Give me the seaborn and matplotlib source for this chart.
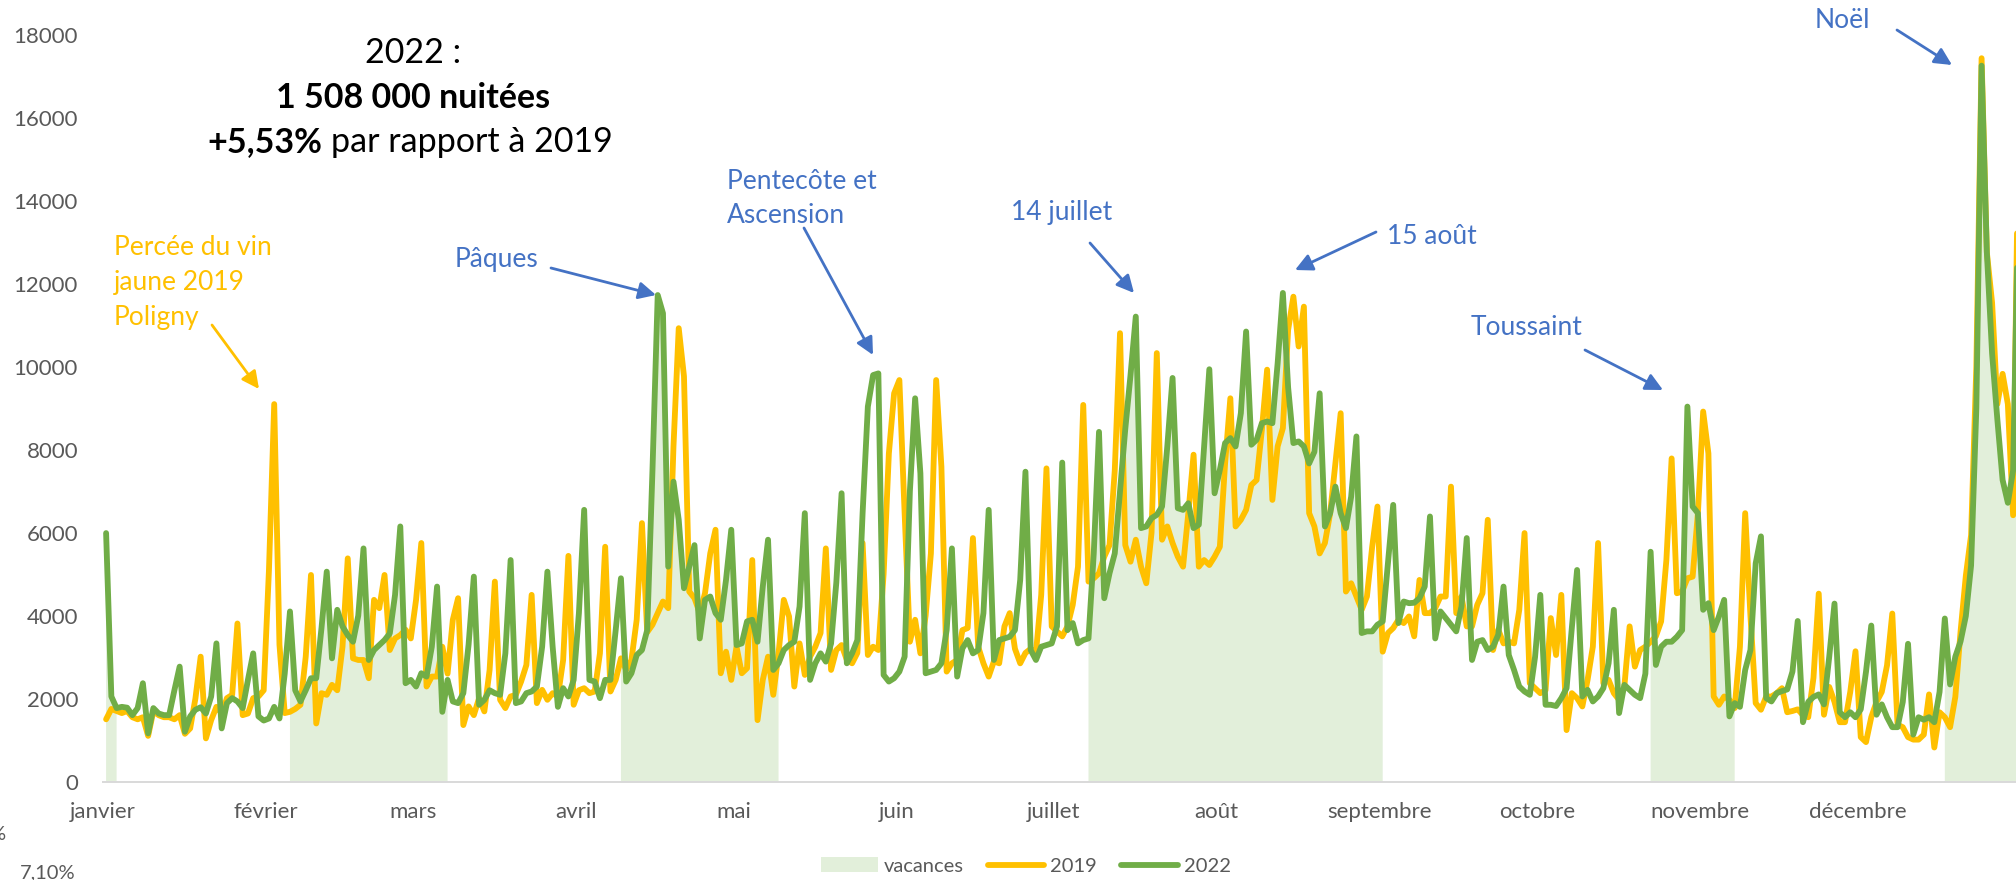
import numpy as np
import pandas as pd
import matplotlib
matplotlib.use('Agg')
import matplotlib.pyplot as plt
import seaborn as sns
from matplotlib.patches import Patch
from matplotlib.lines import Line2D

# Nuitées journalières 2022, lues mois par mois
n2022_jan = [5990, 2050, 1770, 1800, 1780, 1600, 1770, 2370, 1160, 1770, 1640, 1600, 1600, 2200, 2770, 1200,
             1570, 1730, 1790, 1640, 2050, 3330, 1280, 1890, 2010, 1930, 1770, 2450, 3090, 1570, 1470]
n2022_fev = [1520, 1800, 1520, 2600, 4100, 2200, 1930, 2200, 2490, 2490, 3700, 5060, 2970, 4140, 3740, 3530,
             3370, 4000, 5620, 2930, 3170, 3290, 3410, 3570, 4500, 6150, 2370, 2450]
n2022_mar = [2290, 2610, 2530, 3250, 4700, 1680, 2450, 1930, 1890, 2130, 3300, 4940, 1850, 1970, 2200, 2130,
             2090, 3090, 5340, 1890, 1930, 2130, 2170, 2290, 3250, 5060, 3250, 1800, 2250, 2050, 2450]
n2022_avr = [4060, 6550, 2450, 2410, 2010, 2450, 2450, 3650, 4900, 2410, 2610, 3050, 3170, 3650, 7500, 11730,
             11290, 5180, 7230, 6310, 4660, 5180, 5700, 3450, 4380, 4460, 4060, 3900, 4860, 6070]
n2022_mai = [3290, 3330, 3860, 3900, 3370, 4700, 5830, 2690, 2850, 3170, 3290, 3370, 4220, 6470, 2450, 2850,
             3090, 2890, 3330, 4800, 6950, 2850, 3090, 3410, 6470, 9040, 9800, 9840, 2570, 2410, 2490]
n2022_jun = [2650, 3010, 7000, 9240, 7430, 2610, 2650, 2690, 2850, 3650, 5620, 2530, 3210, 3410, 3090, 3170,
             4060, 6550, 2930, 3410, 3450, 3490, 3650, 4860, 7470, 3170, 2930, 3250, 3290, 3330]
n2022_jul = [3740, 7690, 3650, 3820, 3330, 3410, 3450, 5500, 8430, 4420, 5020, 5500, 7000, 8500, 9800, 11210,
             6110, 6150, 6350, 6430, 6630, 8080, 9730, 6590, 6550, 6710, 6110, 6190, 8080, 9940, 6950]
n2022_aou = [7510, 8160, 8280, 8080, 8880, 10850, 8120, 8240, 8640, 8680, 8640, 10080, 11780, 9500, 8160, 8200,
             8080, 7670, 7950, 9360, 6150, 6470, 7110, 6470, 6110, 6870, 8320, 3580, 3620, 3620, 3780]
n2022_sep = [3860, 5260, 6670, 3820, 4340, 4300, 4310, 4420, 4700, 6390, 3450, 4100, 3940, 3780, 3620, 4220,
             5870, 2930, 3370, 3410, 3170, 3250, 3540, 4700, 3050, 2690, 2290, 2170, 2090, 3000]
n2022_oct = [4500, 1850, 1850, 1820, 2010, 2250, 3700, 5100, 2050, 2210, 1930, 2050, 2250, 2850, 4140, 1650,
             2330, 2210, 2090, 2010, 2600, 5540, 2810, 3250, 3370, 3370, 3490, 3650, 9040, 6630, 6470]
n2022_nov = [4140, 4300, 3650, 3980, 4380, 1570, 1890, 1800, 2690, 3170, 5260, 5910, 2010, 1930, 2130, 2180,
             2220, 2650, 3870, 1430, 1920, 2040, 2100, 1860, 3010, 4290, 1670, 1550, 1670, 1550]
n2022_dec = [1740, 2650, 3760, 1610, 1860, 1550, 1310, 1310, 1920, 3320, 1130, 1550, 1490, 1550, 1430, 2160,
             3930, 2340, 3010, 3380, 3990, 5210, 9000, 17260, 12760, 10320, 8730, 7270, 6720, 7500, 14100]

# Nuitées journalières 2019
n2019_jan = [1500, 1750, 1700, 1650, 1700, 1550, 1500, 1550, 1100, 1700, 1600, 1550, 1550, 1500, 1600, 1150,
             1280, 2000, 3010, 1040, 1480, 1800, 1640, 2010, 2090, 3810, 1600, 1640, 2010, 2050, 2200]
n2019_fev = [5100, 9100, 3300, 1650, 1680, 1750, 1850, 3010, 4980, 1400, 2130, 2090, 2330, 2200, 3250, 5380,
             2970, 2930, 2930, 2490, 4380, 4180, 4980, 3170, 3450, 3530, 3660, 3450]
n2019_mar = [4380, 5750, 2290, 2530, 2530, 3250, 2600, 3900, 4420, 1360, 1810, 1600, 2010, 1690, 2690, 4820,
             1970, 1770, 2050, 2090, 2410, 2810, 4500, 1890, 2210, 1970, 2130, 2050, 2930, 5440, 1850]
n2019_avr = [2200, 2250, 2130, 2170, 3090, 5660, 2170, 2450, 2970, 2690, 2930, 3900, 6230, 3600, 3780, 4060,
             4340, 4180, 8080, 10930, 9770, 4580, 4420, 4060, 4540, 5500, 6070, 2610, 3130, 2450]
n2019_mai = [3250, 2610, 2730, 5340, 1480, 2450, 3010, 2090, 3090, 4380, 3980, 2290, 3330, 2570, 3010, 3250,
             3580, 5620, 2690, 3170, 3290, 2930, 2850, 3100, 5750, 3050, 3250, 3170, 5000, 7910, 9360]
n2019_jun = [9680, 6470, 3370, 3900, 3090, 4000, 5500, 9680, 7590, 2650, 2850, 2930, 3650, 3700, 5870, 3250,
             2850, 2530, 2900, 2850, 3740, 4060, 3200, 2850, 3100, 3200, 3100, 4500, 7550, 3740]
n2019_jul = [3620, 3500, 3740, 4260, 5180, 9080, 4820, 4900, 5020, 5420, 5700, 7500, 10810, 5700, 5300, 5830,
             5180, 4780, 6000, 10330, 5830, 6150, 5750, 5420, 5180, 6470, 7880, 5180, 5340, 5220, 5420]
n2019_aou = [5660, 7670, 9240, 6150, 6310, 6550, 7150, 7270, 8480, 9930, 6790, 8080, 8520, 10890, 11690, 10490,
             11450, 6470, 6150, 5500, 5750, 6470, 7670, 8880, 4580, 4780, 4460, 4140, 4460, 5660, 6630]
n2019_sep = [3130, 3580, 3700, 3900, 3820, 3980, 3500, 4860, 4060, 4060, 4180, 4460, 4460, 7110, 4060, 4460,
             3740, 3740, 4260, 4540, 6310, 3170, 3660, 3330, 3370, 3330, 4140, 5990, 2370, 2250]
n2019_oct = [2130, 2200, 3940, 3050, 4500, 1240, 2130, 2010, 1810, 2450, 3250, 5750, 2370, 2450, 2130, 1970,
             2290, 3740, 2770, 3170, 3250, 3370, 3500, 3860, 5340, 7790, 4540, 4580, 4900, 4940, 6470]
n2019_nov = [8920, 7910, 2050, 1850, 2050, 1970, 1770, 3250, 6470, 4000, 1890, 1730, 2050, 2050, 2130, 2250,
             1670, 1700, 1740, 1600, 1550, 2500, 4530, 1610, 2280, 1920, 1430, 1430, 2160, 3140]
n2019_dec = [1070, 950, 1550, 1920, 2160, 2800, 4050, 1370, 1310, 1070, 1010, 1010, 1130, 2100, 820, 1670,
             1550, 1310, 2040, 3620, 4960, 5940, 10000, 17440, 12760, 11540, 9100, 9830, 9100, 6420, 15600]

mois = ['janvier', 'février', 'mars', 'avril', 'mai', 'juin', 'juillet', 'août',
        'septembre', 'octobre', 'novembre', 'décembre']
debut_mois = [0, 31, 59, 90, 120, 151, 181, 212, 243, 273, 304, 334]

# périodes de vacances scolaires 2022 (jours de l'année, bornes incluses)
vacances = [(0, 2), (35, 65), (98, 128), (187, 243), (294, 310), (350, 364)]

n2019 = (n2019_jan + n2019_fev + n2019_mar + n2019_avr + n2019_mai + n2019_jun +
         n2019_jul + n2019_aou + n2019_sep + n2019_oct + n2019_nov + n2019_dec)
n2022 = (n2022_jan + n2022_fev + n2022_mar + n2022_avr + n2022_mai + n2022_jun +
         n2022_jul + n2022_aou + n2022_sep + n2022_oct + n2022_nov + n2022_dec)

df = pd.DataFrame({'jour': np.arange(365) + 0.59, '2019': n2019, '2022': n2022})
long_df = df.melt(id_vars='jour', var_name='annee', value_name='nuitees')

en_vacances = np.zeros(365, dtype=bool)
for debut, fin in vacances:
    en_vacances[debut:fin + 1] = True

sns.set_style('white')
plt.rcParams['font.family'] = ['Lato', 'DejaVu Sans']

GRIS = '#595959'
ORANGE = '#FFC000'
VERT = '#70AD47'
BLEU = '#4472C4'
VAC = '#E2EFDA'

W, H = 2016, 880
fig = plt.figure(figsize=(W / 100, H / 100), dpi=100)
ax = fig.add_axes([103 / W, 98.5 / H, 1 - 103 / W, (845 - 98.5) / H])

ax.fill_between(df['jour'], 0, df['2022'], where=en_vacances, color=VAC, lw=0, zorder=1)
sns.lineplot(data=long_df, x='jour', y='nuitees', hue='annee', estimator=None,
             palette={'2019': ORANGE, '2022': VERT}, linewidth=4.2, legend=False, ax=ax,
             solid_joinstyle='round', solid_capstyle='round', zorder=3)

ax.set_xlim(0, 364.14)
ax.set_ylim(0, 18000)
ax.set_yticks(range(0, 18001, 2000))
ax.set_xticks(debut_mois)
ax.set_xticklabels(mois)
ax.set_xlabel('')
ax.set_ylabel('')
for s in ['top', 'right', 'left']:
    ax.spines[s].set_visible(False)
ax.spines['bottom'].set_color('#D9D9D9')
ax.spines['bottom'].set_linewidth(1.4)
ax.tick_params(axis='x', length=6, width=1.4, color='#D9D9D9', labelsize=16, labelcolor=GRIS, pad=9)
ax.tick_params(axis='y', length=0, labelsize=16, labelcolor=GRIS, pad=18)


def px(x, y_top):
    return (x, H - y_top)


# bloc de titre
fig.text(413 / W, 1 - 63 / H, '2022 :', ha='center', va='baseline', fontsize=24.5, color='black')
fig.text(413 / W, 1 - 108 / H, '1 508 000 nuitées', ha='center', va='baseline', fontsize=24.5,
         fontweight='bold', color='black')
fig.text(322 / W, 1 - 152 / H, '+5,53%', ha='right', va='baseline', fontsize=24.5, fontweight='bold',
         color='black')
fig.text(331 / W, 1 - 152 / H, 'par rapport à 2019', ha='left', va='baseline', fontsize=24.5, color='black')

# annotations : lignes de texte (x gauche, lignes de base) puis flèches
notes = [
    (['Percée du vin', 'jaune 2019', 'Poligny'], 114, [255, 290, 325], ORANGE, (212, 325), (259, 389)),
    (['Pâques'], 455, [267], BLEU, (551, 268), (656, 295)),
    (['Pentecôte et', 'Ascension'], 727, [189, 223], BLEU, (804, 228), (873, 355)),
    (['14 juillet'], 1011, [220], BLEU, (1090, 243), (1134, 293)),
    (['15 août'], 1387, [244], BLEU, (1376, 232), (1295, 270)),
    (['Toussaint'], 1471, [335], BLEU, (1585, 350), (1663, 390)),
    (['Noël'], 1815, [28], BLEU, (1897, 30), (1952, 65)),
]
for lignes, tx, bases, couleur, queue, pointe in notes:
    for ligne, ty in zip(lignes, bases):
        fig.text(tx / W, 1 - ty / H, ligne, ha='left', va='baseline', fontsize=19, color=couleur)
    ax.annotate('', xy=px(*pointe), xytext=px(*queue), xycoords='figure pixels',
                textcoords='figure pixels',
                arrowprops=dict(arrowstyle='-|>', color=couleur, lw=2, mutation_scale=26,
                                shrinkA=0, shrinkB=0))

# légende
poignees = [Patch(facecolor=VAC, edgecolor='none', label='vacances'),
            Line2D([], [], color=ORANGE, lw=4.2, solid_capstyle='round', label='2019'),
            Line2D([], [], color=VERT, lw=4.2, solid_capstyle='round', label='2022')]
fig.legend(handles=poignees, loc='center', bbox_to_anchor=(1026 / W, 14 / H), ncol=3, frameon=False,
           fontsize=14.5, labelcolor=GRIS, handlelength=2.8, handleheight=0.7, handletextpad=0.3,
           columnspacing=1.2)

# restes de la feuille voisine
fig.text(5 / W, 1 - 840 / H, '%', ha='right', va='baseline', fontsize=14.5, color=GRIS)
fig.text(20 / W, 1 - 878 / H, '7,10%', ha='left', va='baseline', fontsize=14.5, color=GRIS)

fig.savefig('out.png', dpi=100)
